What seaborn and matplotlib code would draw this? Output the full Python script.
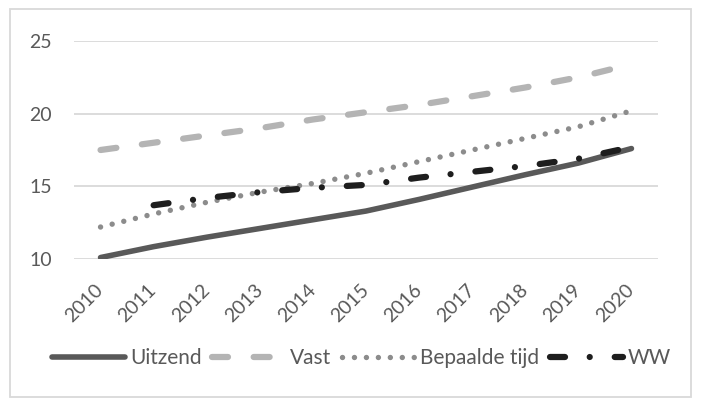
import numpy as np
import pandas as pd
import seaborn as sns
import matplotlib.pyplot as plt
from matplotlib.patches import Rectangle

years = [2010, 2011, 2012, 2013, 2014, 2015, 2016, 2017, 2018, 2019, 2020]
uitzend = [10.1, 10.85, 11.5, 12.1, 12.7, 13.3, 14.1, 14.95, 15.8, 16.6, 17.6]
vast = [17.5, 18.0, 18.5, 19.0, 19.6, 20.1, 20.6, 21.2, 21.8, 22.5, 23.4]
bepaalde_tijd = [12.2, 13.1, 13.9, 14.6, 15.2, 15.9, 16.7, 17.5, 18.3, 19.1, 20.2]
ww = [None, 13.7, 14.2, 14.6, 14.9, 15.1, 15.6, 16.0, 16.4, 16.9, 17.7]
yticks = [10, 15, 20, 25]

sns.set_style("white")
plt.rcParams['font.family'] = ['Lato', 'DejaVu Sans']
plt.rcParams['lines.scale_dashes'] = False

txt = '#595959'
grid = '#d9d9d9'

series = [
    ('Uitzend', uitzend, '#595959', 4.0, None),
    ('Vast', vast, '#b4b4b4', 4.5, (0, (11.5, 18.5))),
    ('Bepaalde tijd', bepaalde_tijd, '#8c8c8c', 3.9, (0, (0.01, 8.6))),
    ('WW', ww, '#1e1e1e', 4.5, (0, (10.8, 17.8, 0.01, 18.0))),
]

fig = plt.figure(figsize=(7.05, 4.0), dpi=100)
ax = fig.add_axes([74 / 705, 1 - 259 / 400, 584 / 705, 218 / 400])

for name, vals, col, lw, dash in series:
    df = pd.DataFrame({'jaar': years, 'waarde': vals}).dropna()
    sns.lineplot(data=df, x='jaar', y='waarde', color=col, lw=lw, ax=ax,
                 label=name, legend=False, solid_capstyle='round',
                 dash_capstyle='round')
    line = ax.get_lines()[-1]
    if dash is not None:
        line.set_linestyle(dash)
        line.set_dash_capstyle('round')

ax.set_xlim(years[0] - 0.5, years[-1] + 0.5)
ax.set_ylim(10, 25)
ax.set_yticks(yticks)
ax.set_xticks(years)
ax.set_xticklabels([str(y) for y in years], rotation=45, ha='right',
                   va='center', rotation_mode='anchor')
ax.set_xlabel('')
ax.set_ylabel('')
ax.grid(axis='y', color=grid, lw=1.3)
ax.set_axisbelow(True)
for s in ax.spines.values():
    s.set_visible(False)
ax.tick_params(axis='both', length=0, labelsize=14, colors=txt)
ax.tick_params(axis='y', pad=16)
ax.tick_params(axis='x', pad=20)

handles = ax.get_lines()[:4]
fig.legend(handles, [s[0] for s in series], loc='center', ncol=4,
           bbox_to_anchor=(361.5 / 705, 1 - 358 / 400), frameon=False,
           fontsize=15, labelcolor=txt, handlelength=3.5, handletextpad=0.25,
           columnspacing=0.5, borderaxespad=0)

fig.patches.append(Rectangle((10 / 705, 3 / 400), 681 / 705, 388 / 400,
                             transform=fig.transFigure, fill=False,
                             edgecolor=grid, lw=1.3))

fig.savefig('out.png', dpi=100)
